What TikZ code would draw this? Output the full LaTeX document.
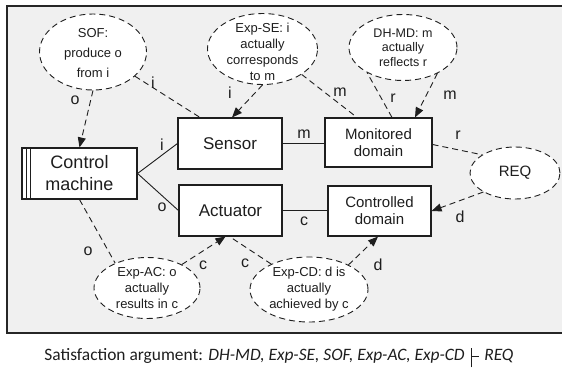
\documentclass[tikz,border=0pt]{standalone}
\usepackage{fontspec}
\setmainfont{Liberation Sans}
\newfontfamily\capfont{Carlito}
\usetikzlibrary{shapes.geometric,arrows.meta}
\definecolor{panelbg}{HTML}{F0F0F0}
\definecolor{ink}{HTML}{1E1E1E}
% turnstile built from two rules
\newcommand{\entails}{\rule[-0.42em]{0.06em}{1.1em}\rule[0.16em]{0.42em}{0.06em}}

\begin{document}
\begin{tikzpicture}[x=1pt,y=-1pt,
  every node/.style={text=ink},
  box/.style={draw=ink, line width=1.1pt, fill=white, rectangle, inner sep=0pt},
  ell/.style={draw=ink, line width=0.9pt, dash pattern=on 6pt off 4pt, fill=white,
              ellipse, inner sep=0pt},
  etext/.style={align=center, inner sep=0pt},
  solidc/.style={draw=ink, line width=0.9pt},
  dashc/.style={draw=ink, line width=0.9pt, dash pattern=on 6pt off 4pt},
  tip/.style={-{Triangle[length=10pt,width=8pt]}},
  lbl/.style={font=\fontsize{16}{18}\selectfont, inner sep=0pt}]

\useasboundingbox (0,0) rectangle (562,367);
\fill[white] (0,0) rectangle (562,367);
% framed panel
\draw[line width=1.4pt, draw=black!85, fill=panelbg] (7,6) rectangle (575,333);

% boxes
\node[box, minimum width=115pt, minimum height=51pt, align=center,
      font=\fontsize{18}{22}\selectfont] (ctrl) at (79.5,173.5) {Control\\machine};
\draw[ink, line width=0.9pt] ([xshift=4.5pt]ctrl.north west) -- ([xshift=4.5pt]ctrl.south west);
\draw[ink, line width=0.9pt] ([xshift=8.5pt]ctrl.north west) -- ([xshift=8.5pt]ctrl.south west);
\node[box, minimum width=104pt, minimum height=51pt, font=\fontsize{17}{20}\selectfont]
      (sens) at (230,143.5) {Sensor};
\node[box, minimum width=103pt, minimum height=51pt, font=\fontsize{17}{20}\selectfont]
      (act) at (230.5,210.5) {Actuator};
\node[box, minimum width=107pt, minimum height=49pt, align=center,
      font=\fontsize{15}{17}\selectfont] (mon) at (378.5,142.5) {Monitored\\domain};
\node[box, minimum width=103pt, minimum height=50pt, align=center,
      font=\fontsize{15}{17}\selectfont] (cdom) at (379.5,211) {Controlled\\domain};

% dashed ellipses
\node[ell, minimum width=107pt, minimum height=76pt] (sof) at (93,52) {};
\node[etext, font=\fontsize{13}{20}\selectfont] (sofT) at ([yshift=-1pt]sof.center) {SOF:\\produce o\\from i};
\node[ell, minimum width=110pt, minimum height=71pt] (se) at (262.5,49) {};
\node[etext, font=\fontsize{13}{16}\selectfont] (seT) at ([yshift=-2.5pt]se.center) {Exp-SE: i\\actually\\corresponds\\to m};
\node[ell, minimum width=108pt, minimum height=66pt] (dh) at (403,47.5) {};
\node[etext, font=\fontsize{12.5}{14.5}\selectfont] (dhT) at (dh.center) {DH-MD: m\\actually\\reflects r};
\node[ell, minimum width=90pt, minimum height=52pt] (req) at (515,173) {};
\node[etext, font=\fontsize{15}{17}\selectfont] (reqT) at (req.center) {REQ};
\node[ell, minimum width=106pt, minimum height=61pt] (ac) at (147,288) {};
\node[etext, font=\fontsize{13}{16}\selectfont] (acT) at (ac.center) {Exp-AC: o\\actually\\results in c};
\node[ell, minimum width=118pt, minimum height=65pt] (cd) at (309,289.5) {};
\node[etext, font=\fontsize{13}{16}\selectfont] (cdT) at (cd.center) {Exp-CD: d is\\actually\\achieved by c};

% solid interfaces
\draw[solidc] (ctrl.east) -- (sens.west);
\draw[solidc] (ctrl.east) -- (act.west);
\draw[solidc] (sens.east) -- (sens.east -| mon.west);
\draw[solidc] (act.east) -- (act.east -| cdom.west);

% dashed references
\draw[dashc, tip] (sof.south) -- (ctrl.north);
\draw[dashc] (sof.-30) -- ([xshift=-30pt]sens.north);
\draw[dashc, tip] (se.south) -- ([xshift=2pt]sens.north);
\draw[dashc] (se.-33) -- ([xshift=-21.5pt]mon.north);
\draw[dashc] ([xshift=13.5pt]mon.north) -- (dh.215);
\draw[dashc, tip] (dh.-37) -- ([xshift=36.5pt]mon.north);
\draw[dashc] ([yshift=-2pt]mon.east) -- (req.151);
\draw[dashc, tip] (req.211) -- (cdom.east);
\draw[dashc] (ctrl.south) -- (ac.142);
\draw[dashc, tip] (ac.34) -- ([xshift=-5pt]act.south);
\draw[dashc] (cd.146) -- ([xshift=-1pt]act.south);
\draw[dashc, tip] (cd.32) -- ([xshift=-1.5pt]cdom.south);

% phenomenon labels
\node[lbl] (l1) at (75,100) {o};
\node[lbl] (l2) at (153,83) {i};
\node[lbl] (l3) at (230,93) {i};
\node[lbl] (l4) at (340,92) {m};
\node[lbl] (l5) at (393,98) {r};
\node[lbl] (l6) at (450,95) {m};
\node[lbl] (l7) at (458,135) {r};
\node[lbl] (l8) at (460,217) {d};
\node[lbl] (l9) at (162,145) {i};
\node[lbl] (l10) at (162,207) {o};
\node[lbl] (l11) at (304,134) {m};
\node[lbl] (l12) at (304,221) {c};
\node[lbl] (l13) at (88,251) {o};
\node[lbl] (l14) at (203,265) {c};
\node[lbl] (l15) at (245,263) {c};
\node[lbl] (l16) at (378,265) {d};

% caption
\node[anchor=base, inner sep=0pt, font=\capfont\fontsize{17.4}{21}\selectfont] (cap) at (279,360)
  {Satisfaction argument: \textit{DH-MD, Exp-SE, SOF, Exp-AC, Exp-CD}\hspace{0.35em}\entails\hspace{0.3em}\textit{REQ}};
\end{tikzpicture}
\end{document}
